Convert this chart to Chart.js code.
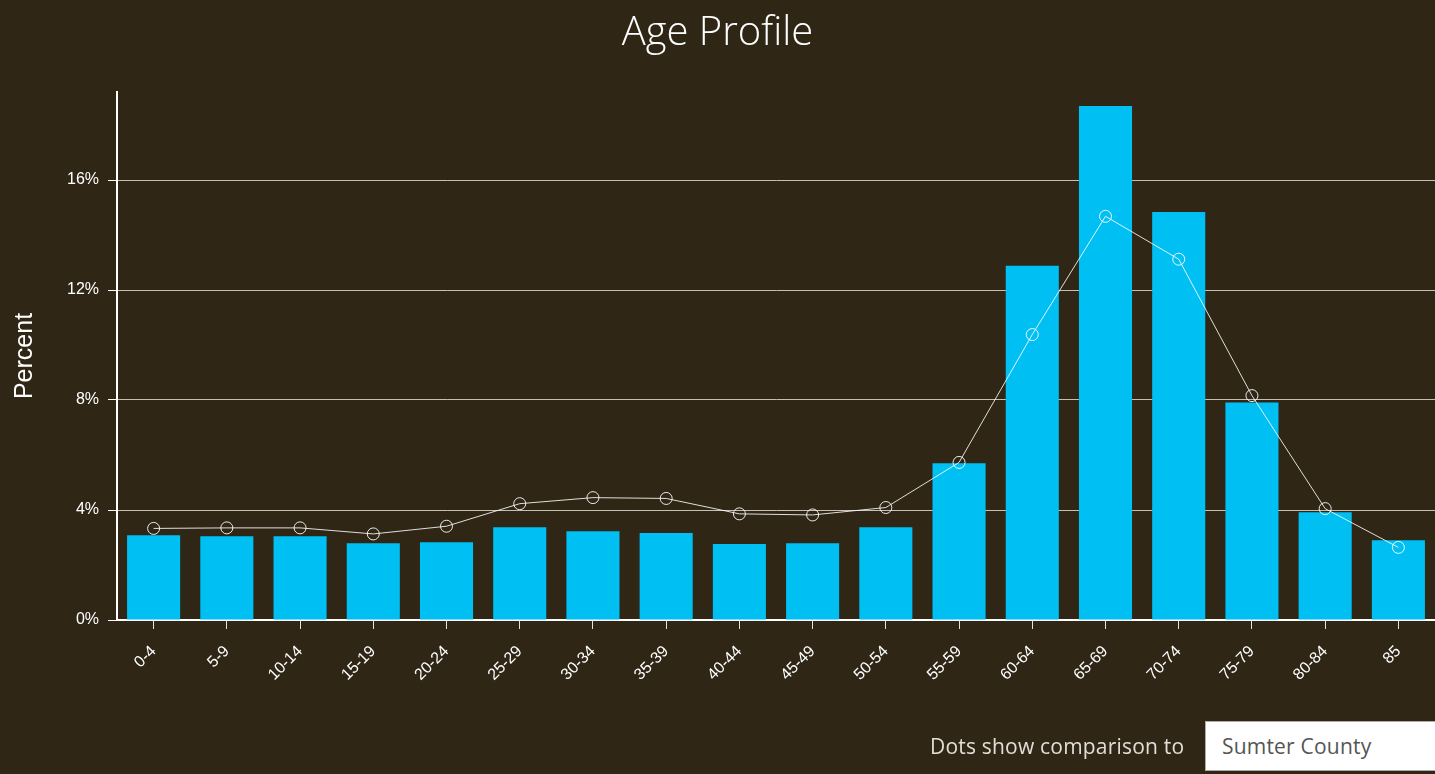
<!DOCTYPE html>
<html>
<head>
<meta charset="utf-8">
<script src="https://cdn.jsdelivr.net/npm/chart.js@4.4.0/dist/chart.umd.min.js"></script>
<style>
  html, body { margin: 0; padding: 0; background: #2f2616; overflow: hidden; }
  #wrap { position: relative; width: 1435px; height: 774px; }
  #ageChart { position: absolute; left: 0; top: 0; }
  #compare { position: absolute; left: 930px; top: 732px; font-family: "Open Sans", sans-serif; font-size: 21px;
    letter-spacing: 0.2px; color: #e2ded6; }
  #county { position: absolute; left: 1205px; top: 721px; width: 250px; height: 50px; background: #fff;
    border: 1px solid #b0aca4; box-sizing: border-box; font-family: "Open Sans", sans-serif; font-size: 21px;
    letter-spacing: 0.2px; color: #555; padding: 10px 0 0 16px; }
</style>
</head>
<body>
<div id="wrap">
  <canvas id="ageChart" width="1435" height="774"></canvas>
  <div id="compare">Dots show comparison to</div>
  <div id="county">Sumter County</div>
</div>
<script>
// age groups and percent shares
const ageGroups = ["0-4", "5-9", "10-14", "15-19", "20-24", "25-29", "30-34", "35-39", "40-44",
  "45-49", "50-54", "55-59", "60-64", "65-69", "70-74", "75-79", "80-84", "85"];
const areaPct = [3.08, 3.05, 3.05, 2.79, 2.83, 3.37, 3.23, 3.16, 2.76, 2.79, 3.37, 5.70,
  12.88, 18.69, 14.84, 7.91, 3.92, 2.90];
const countyPct = [3.33, 3.35, 3.35, 3.13, 3.41, 4.23, 4.45, 4.42, 3.86, 3.82, 4.09, 5.73,
  10.38, 14.68, 13.12, 8.16, 4.05, 2.64];
const yTicks = [0, 4, 8, 12, 16];

const tickFont = { family: "'Liberation Sans', Arial, sans-serif", size: 16 };

new Chart(document.getElementById("ageChart"), {
  type: "bar",
  data: {
    labels: ageGroups,
    datasets: [
      {
        type: "line",
        label: "Sumter County",
        data: countyPct,
        order: 0,
        borderColor: "rgba(255,255,255,0.85)",
        borderWidth: 1,
        tension: 0,
        pointRadius: 6,
        pointBackgroundColor: "rgba(0,0,0,0)",
        pointBorderColor: "rgba(255,255,255,0.9)",
        pointBorderWidth: 1,
      },
      {
        label: "Area",
        data: areaPct,
        order: 1,
        backgroundColor: "#00bff3",
        barPercentage: 0.725,
        categoryPercentage: 1,
      },
    ],
  },
  options: {
    responsive: false,
    animation: false,
    // no auto padding, otherwise the points push the plot in from the right
    layout: { padding: 0, autoPadding: false },
    plugins: {
      legend: { display: false },
      tooltip: { enabled: false },
      title: {
        display: true,
        text: "Age Profile",
        color: "#ffffff",
        font: { family: "'Open Sans', sans-serif", size: 40, weight: 300, lineHeight: 1.1 },
        padding: { top: 12, bottom: 36 },
      },
    },
    scales: {
      x: {
        afterFit: (scale) => {
          scale.height = 154;
          scale.paddingLeft = 0;
          scale.paddingRight = 0;
        },
        grid: { offset: false, drawOnChartArea: false, drawTicks: true, tickLength: 9, tickColor: "#e8e4dc" },
        border: { color: "#ffffff", width: 2 },
        ticks: { color: "#ffffff", font: tickFont, minRotation: 45, maxRotation: 45, padding: 13, autoSkip: false },
      },
      y: {
        min: 0,
        max: 19.2,
        afterFit: (scale) => { scale.width = 117; },
        afterBuildTicks: (scale) => { scale.ticks = yTicks.map((v) => ({ value: v })); },
        grid: { color: "rgba(235,230,220,0.8)", lineWidth: 1, tickLength: 9, tickColor: "#ffffff" },
        border: { color: "#ffffff", width: 2 },
        ticks: { color: "#ffffff", font: tickFont, padding: 9, callback: (v) => v + "%" },
        title: {
          display: true,
          text: "Percent",
          color: "#ffffff",
          font: { family: "'Liberation Sans', Arial, sans-serif", size: 25 },
          padding: { top: 10, bottom: 0 },
        },
      },
    },
  },
});
</script>
</body>
</html>
